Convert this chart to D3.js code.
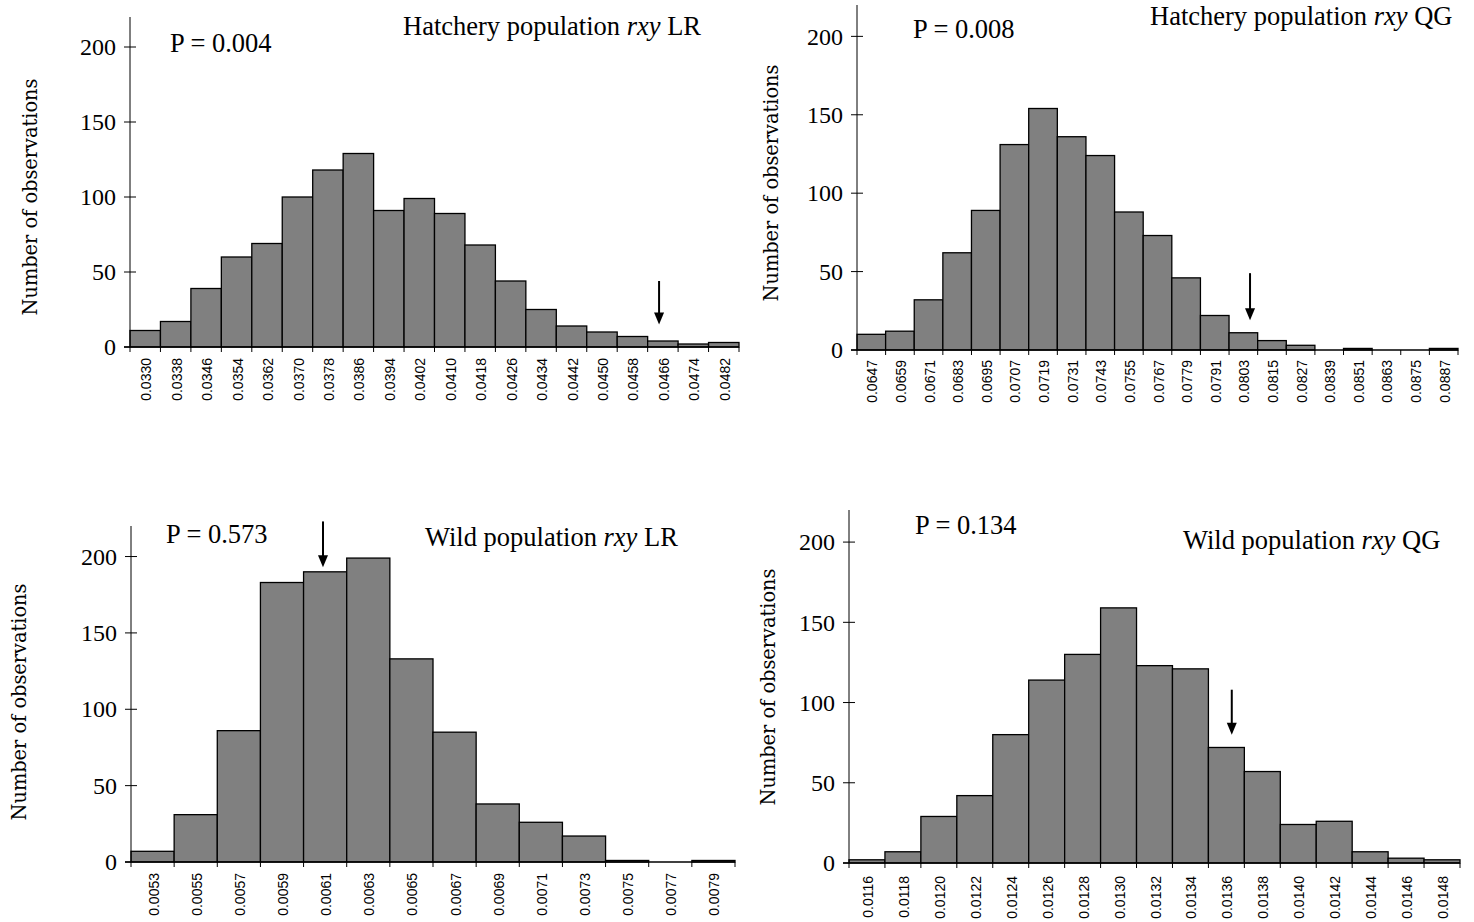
<!DOCTYPE html>
<html>
<head>
<meta charset="utf-8">
<script src="https://cdn.jsdelivr.net/npm/d3@7"></script>
<style>
  html, body { margin: 0; padding: 0; background: #fff; }
  svg { display: block; }
</style>
</head>
<body>
<svg id="chart" width="1474" height="922"></svg>
<script>
// ---------- DATA ----------
const p1Labels = ["0.0330","0.0338","0.0346","0.0354","0.0362","0.0370","0.0378","0.0386","0.0394","0.0402","0.0410","0.0418","0.0426","0.0434","0.0442","0.0450","0.0458","0.0466","0.0474","0.0482"];
const p1Counts = [11,17,39,60,69,100,118,129,91,99,89,68,44,25,14,10,7,4,2,3];

const p2Labels = ["0.0647","0.0659","0.0671","0.0683","0.0695","0.0707","0.0719","0.0731","0.0743","0.0755","0.0767","0.0779","0.0791","0.0803","0.0815","0.0827","0.0839","0.0851","0.0863","0.0875","0.0887"];
const p2Counts = [10,12,32,62,89,131,154,136,124,88,73,46,22,11,6,3,0,1,0,0,1];

const p3Labels = ["0.0053","0.0055","0.0057","0.0059","0.0061","0.0063","0.0065","0.0067","0.0069","0.0071","0.0073","0.0075","0.0077","0.0079"];
const p3Counts = [7,31,86,183,190,199,133,85,38,26,17,1,0,1];

const p4Labels = ["0.0116","0.0118","0.0120","0.0122","0.0124","0.0126","0.0128","0.0130","0.0132","0.0134","0.0136","0.0138","0.0140","0.0142","0.0144","0.0146","0.0148"];
const p4Counts = [2,7,29,42,80,114,130,159,123,121,72,57,24,26,7,3,2];

const titles = ["Hatchery population |rxy| LR","Hatchery population |rxy| QG","Wild population |rxy| LR","Wild population |rxy| QG"];
const pTexts = ["P = 0.004","P = 0.008","P = 0.573","P = 0.134"];
const observed = [0.04650, 0.08058, 0.00609, 0.01363];   // arrow positions (x value)
const arrowSpan = [[44,15],[49,19],[223,193],[108,80]];   // arrow top / tip (counts)
const yTicks = [0,50,100,150,200];
const yMax = 220;
const yTitle = "Number of observations";

// ---------- LAYOUT ----------
const layout = [
  {x0:130, x1:739, yb:347, yt:17,  lab:11, px:170, py:52,  tx:403,  ty:35,  ylx:37,  yly:197},
  {x0:857, x1:1458,yb:350, yt:5,   lab:10, px:913, py:38,  tx:1150, ty:25,  ylx:778, yly:183},
  {x0:131, x1:735, yb:862, yt:526, lab:11, px:166, py:543, tx:425,  ty:546, ylx:26,  yly:702},
  {x0:849, x1:1460,yb:863, yt:510, lab:13, px:915, py:534, tx:1183, ty:549, ylx:775, yly:687}
];
const allLabels = [p1Labels,p2Labels,p3Labels,p4Labels];
const allCounts = [p1Counts,p2Counts,p3Counts,p4Counts];

const svg = d3.select("#chart");
const serif = "'Liberation Serif','Times New Roman',serif";

layout.forEach((L, i) => {
  const labels = allLabels[i], counts = allCounts[i];
  const g = svg.append("g");
  const xb = d3.scaleBand().domain(labels).range([L.x0, L.x1]).paddingInner(0).paddingOuter(0);
  const v0 = +labels[0], step = (+labels[1]) - (+labels[0]), vN = +labels[labels.length-1];
  const xl = d3.scaleLinear().domain([v0 - step/2, vN + step/2]).range([L.x0, L.x1]);
  const y = d3.scaleLinear().domain([0, yMax]).range([L.yb, L.yt]);

  // bars
  g.selectAll("rect.bar").data(labels.map((l,j)=>({l, c:counts[j]})).filter(d=>d.c>0))
    .enter().append("rect")
    .attr("x", d => xb(d.l)).attr("width", xb.bandwidth())
    .attr("y", d => y(d.c)).attr("height", d => y(0) - y(d.c))
    .attr("fill", "#808080").attr("stroke", "#000").attr("stroke-width", 1.3);

  // y axis
  const ya = d3.axisLeft(y).tickValues(yTicks).tickSize(0).tickPadding(14);
  const yg = g.append("g").attr("transform", `translate(${L.x0},0)`).call(ya);
  yg.select(".domain").remove();
  yg.selectAll("text").attr("font-family", serif).attr("font-size", 24).attr("fill", "#000");
  g.append("line").attr("x1", L.x0).attr("x2", L.x0).attr("y1", y(yMax)).attr("y2", y(0))
    .attr("stroke", "#000").attr("stroke-width", 1);
  g.selectAll("line.yt").data(yTicks).enter().append("line")
    .attr("x1", L.x0 - 6).attr("x2", d => d === 0 ? L.x0 : L.x0 + 6)
    .attr("y1", d => y(d)).attr("y2", d => y(d))
    .attr("stroke", "#000").attr("stroke-width", 1);

  // x axis
  g.append("line").attr("x1", L.x0 - 6).attr("x2", L.x1).attr("y1", y(0)).attr("y2", y(0))
    .attr("stroke", "#000").attr("stroke-width", 1.5);
  const edges = labels.map(l => xb(l)).concat([L.x1]);
  g.selectAll("line.xt").data(edges).enter().append("line")
    .attr("x1", d => d).attr("x2", d => d).attr("y1", y(0)).attr("y2", y(0) + 5)
    .attr("stroke", "#000").attr("stroke-width", 1);
  g.selectAll("text.xl").data(labels).enter().append("text")
    .attr("transform", d => `translate(${xb(d) + xb.bandwidth()/2 + 1},${y(0) + L.lab}) rotate(-90)`)
    .attr("dy", "0.36em").attr("text-anchor", "end")
    .attr("font-family", "'Liberation Sans',Arial,sans-serif").attr("font-size", 14)
    .text(d => d);

  // y title
  g.append("text")
    .attr("transform", `translate(${L.ylx},${L.yly}) rotate(-90)`)
    .attr("text-anchor", "middle")
    .attr("font-family", "'DejaVu Serif',serif").attr("font-size", 21)
    .attr("textLength", 237).attr("lengthAdjust", "spacingAndGlyphs")
    .text(yTitle);

  // P text
  g.append("text").attr("x", L.px).attr("y", L.py)
    .attr("font-family", serif).attr("font-size", 26.5).text(pTexts[i]);

  // title with italic part
  const parts = titles[i].split("|");
  const t = g.append("text").attr("x", L.tx).attr("y", L.ty)
    .attr("font-family", serif).attr("font-size", 26.5);
  parts.forEach((p, k) => {
    t.append("tspan").attr("font-style", k === 1 ? "italic" : "normal").text(p);
  });

  // arrow
  const ax = xl(observed[i]);
  const yTop = y(arrowSpan[i][0]), yTip = y(arrowSpan[i][1]);
  g.append("line").attr("x1", ax).attr("x2", ax).attr("y1", yTop).attr("y2", yTip - 10)
    .attr("stroke", "#000").attr("stroke-width", 2);
  g.append("path")
    .attr("d", `M${ax-5},${yTip-12} L${ax+5},${yTip-12} L${ax},${yTip} Z`)
    .attr("fill", "#000");
});
</script>
</body>
</html>
